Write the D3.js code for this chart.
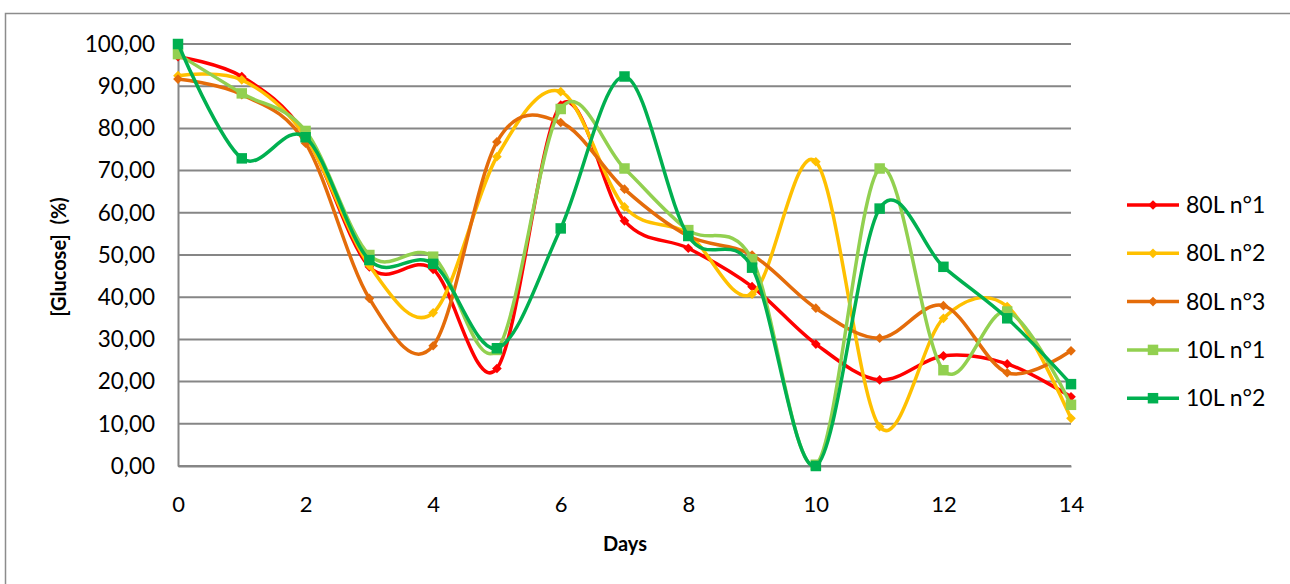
<!DOCTYPE html>
<html>
<head>
<meta charset="utf-8">
<script src="https://cdn.jsdelivr.net/npm/d3@7"></script>
<style>
  html, body { margin: 0; padding: 0; background: #fff; }
  svg { display: block; }
  text { font-family: Lato, "Open Sans", sans-serif; fill: #000; }
</style>
</head>
<body>
<svg id="chart" width="1290" height="584"></svg>
<script>
const days = [0, 1, 2, 3, 4, 5, 6, 7, 8, 9, 10, 11, 12, 13, 14];
const s80L1 = [97, 92.3, 78.5, 47.2, 46.6, 23.1, 85.5, 58.1, 51.6, 42.5, 28.9, 20.4, 26.1, 24.2, 16.4];
const s80L2 = [92.5, 91.5, 78, 47.5, 36.3, 73.3, 88.7, 61.4, 55, 40.7, 72.1, 9.3, 35, 37.8, 11.3];
const s80L3 = [91.7, 88, 76.5, 39.7, 28.5, 76.8, 81.4, 65.6, 54.5, 50, 37.4, 30.3, 38, 22.1, 27.3];
const s10L1 = [97.6, 88.3, 79.4, 50, 49.6, 27.5, 84.6, 70.5, 55.9, 49, 0.3, 70.5, 22.7, 36.6, 14.5];
const s10L2 = [100, 72.9, 77.9, 48.8, 47.9, 27.9, 56.3, 92.3, 54.5, 47, 0, 61, 47.2, 35, 19.4];
const seriesNames = ["80L n°1", "80L n°2", "80L n°3", "10L n°1", "10L n°2"];
const seriesValues = [s80L1, s80L2, s80L3, s10L1, s10L2];
const seriesColors = ["#FF0000", "#FFC000", "#E46C0A", "#92D050", "#00B050"];
const seriesMarkers = ["diamond", "diamond", "diamond", "square", "square"];
const yTicks = [0, 10, 20, 30, 40, 50, 60, 70, 80, 90, 100];
const xTicks = [0, 2, 4, 6, 8, 10, 12, 14];
const xTitle = "Days";
const yTitle = "[Glucose]  (%)";

const svg = d3.select("#chart");
const x = d3.scaleLinear().domain([0, 14]).range([178, 1071]);
const y = d3.scaleLinear().domain([0, 100]).range([466, 44]);

// chart frame
svg.append("rect").attr("x", 5.5).attr("y", 13.5).attr("width", 1300).attr("height", 600)
  .attr("fill", "none").attr("stroke", "#8c8c8c").attr("stroke-width", 1.5);

// gridlines
svg.append("g").selectAll("line").data(yTicks).join("line")
  .attr("x1", x(0)).attr("x2", x(14))
  .attr("y1", d => y(d)).attr("y2", d => y(d))
  .attr("stroke", "#868686").attr("stroke-width", 2);

// y axis
const yAxis = svg.append("g").attr("transform", `translate(${x(0)},0)`)
  .call(d3.axisLeft(y).tickValues(yTicks).tickSize(0).tickPadding(23)
    .tickFormat(d => d3.format(".2f")(d).replace(".", ",")));
yAxis.select(".domain").attr("stroke", "#868686").attr("stroke-width", 2);
yAxis.selectAll("text").style("font-size", "22.5px").style("font-family", "Lato, sans-serif");

// x axis
const xAxis = svg.append("g").attr("transform", `translate(0,${y(0)})`)
  .call(d3.axisBottom(x).tickValues(xTicks).tickSize(0).tickPadding(30));
xAxis.select(".domain").attr("stroke", "#868686").attr("stroke-width", 2);
xAxis.selectAll("text").style("font-size", "22px").style("font-family", "Lato, sans-serif");

// titles
svg.append("text").attr("x", 625).attr("y", 551).attr("text-anchor", "middle")
  .style("font-size", "20px").style("font-weight", "bold").text(xTitle);
svg.append("text").attr("transform", "translate(66,257) rotate(-90)").attr("text-anchor", "middle")
  .style("font-size", "20px").style("font-weight", "bold").style("white-space", "pre").text(yTitle);

const line = d3.line().x((d, i) => x(days[i])).y(d => y(d)).curve(d3.curveCardinal.tension(0));
const diamond = d3.symbol().type(d3.symbolDiamond2).size(60)();
const square = d3.symbol().type(d3.symbolSquare).size(110)();

seriesValues.forEach((vals, k) => {
  const g = svg.append("g");
  g.append("path").attr("d", line(vals)).attr("fill", "none")
    .attr("stroke", seriesColors[k]).attr("stroke-width", 3.5).attr("stroke-linejoin", "round");
  g.selectAll("path.m").data(vals).join("path").attr("class", "m")
    .attr("d", seriesMarkers[k] === "diamond" ? diamond : square)
    .attr("transform", (d, i) => `translate(${x(days[i])},${y(d)})`)
    .attr("fill", seriesColors[k]);
});

// legend
const legend = svg.append("g");
seriesNames.forEach((name, k) => {
  const ly = 205 + k * 48.3;
  legend.append("line").attr("x1", 1127).attr("x2", 1179).attr("y1", ly).attr("y2", ly)
    .attr("stroke", seriesColors[k]).attr("stroke-width", 3.5);
  legend.append("path").attr("d", seriesMarkers[k] === "diamond" ? diamond : square)
    .attr("transform", `translate(1153,${ly})`).attr("fill", seriesColors[k]);
  legend.append("text").attr("x", 1186).attr("y", ly).attr("dy", "0.35em")
    .style("font-size", "23px").text(name);
});
</script>
</body>
</html>
